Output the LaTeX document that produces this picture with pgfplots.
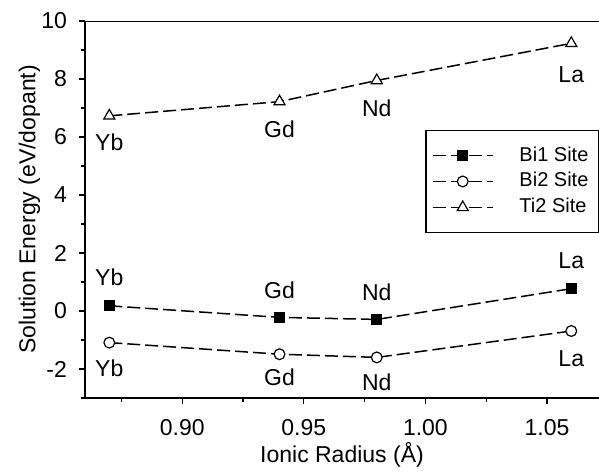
\documentclass[border=0pt]{standalone}
\usepackage{fontspec}
\setmainfont{Liberation Sans}
\usepackage{pgfplots}
\pgfplotsset{compat=1.18}
\begin{document}
\fontsize{11.5}{13}\selectfont
\begin{tikzpicture}
\begin{axis}[
 width=257pt, height=188.5pt, scale only axis,
 xmin=0.86, xmax=1.0714, ymin=-3, ymax=10,
 axis lines*=left,
 axis line style={line width=0.65pt},
 xtick={0.90,0.95,1.00,1.05}, xticklabels={0.90,0.95,1.00,1.05},
 minor xtick={0.875,0.925,0.975,1.025},
 ytick={-2,0,2,4,6,8,10}, yticklabels={-2,0,2,4,6,8,10},
 minor ytick={-3,-1,1,3,5,7,9},
 tick align=outside, major tick length=3pt, minor tick length=2pt,
 every tick/.style={black, line width=0.65pt},
 /pgf/number format/assume math mode=true,
 tick label style={font=\fontsize{11.5}{13}\selectfont},
 xticklabel style={yshift=-3.5pt},
 yticklabel style={xshift=-2pt},
 label style={font=\fontsize{11.5}{13}\selectfont},
 xlabel={Ionic Radius (Å)}, ylabel={Solution Energy (eV/dopant)},
 every axis x label/.style={at={(axis description cs:0.5,0)}, anchor=north, yshift=-18pt},
 every axis y label/.style={at={(axis description cs:-0.108,0.5)}, rotate=90, anchor=center},
 legend cell align=left,
 legend style={at={(rel axis cs:1,0.711)}, anchor=north east, draw=black, line width=0.6pt,
   font=\fontsize{10}{12}\selectfont, inner xsep=3pt, inner ysep=6pt, row sep=0pt, column sep=11pt},
 legend image code/.code={\draw[#1, mark repeat=2, mark phase=2] plot coordinates {(0pt,0pt)(15pt,0pt)(30pt,0pt)};},
 every axis plot/.append style={black, line width=0.75pt, dash pattern=on 6.5pt off 2.5pt},
]
\addplot[mark=square*, mark size=2.4pt, mark options={solid, fill=black, line width=0.6pt}]
 coordinates {(0.87,0.18)(0.94,-0.22)(0.98,-0.29)(1.06,0.77)};
\addlegendentry{Bi1 Site}
\addplot[mark=*, mark size=2.7pt, mark options={solid, fill=white, line width=0.6pt}]
 coordinates {(0.87,-1.09)(0.94,-1.49)(0.98,-1.60)(1.06,-0.69)};
\addlegendentry{Bi2 Site}
\addplot[mark=triangle*, mark size=3.2pt, mark options={solid, fill=white, line width=0.6pt}]
 coordinates {(0.87,6.73)(0.94,7.22)(0.98,7.95)(1.06,9.23)};
\addlegendentry{Ti2 Site}
\draw[line width=0.65pt] (rel axis cs:0,1) -- (rel axis cs:1,1);
\node at (axis cs:0.87,5.83) {Yb};
\node at (axis cs:0.94,6.28) {Gd};
\node at (axis cs:0.98,7.0) {Nd};
\node at (axis cs:1.06,8.14) {La};
\node at (axis cs:0.87,1.17) {Yb};
\node at (axis cs:0.94,0.72) {Gd};
\node at (axis cs:0.98,0.66) {Nd};
\node at (axis cs:1.06,1.72) {La};
\node at (axis cs:0.87,-1.97) {Yb};
\node at (axis cs:0.94,-2.28) {Gd};
\node at (axis cs:0.98,-2.45) {Nd};
\node at (axis cs:1.06,-1.66) {La};
\end{axis}
\pgfresetboundingbox
\path[use as bounding box] (current axis.south west) ++(-42.5pt,-37.5pt) rectangle ([shift={(0pt,10.5pt)}]current axis.north east);
\end{tikzpicture}
\end{document}
